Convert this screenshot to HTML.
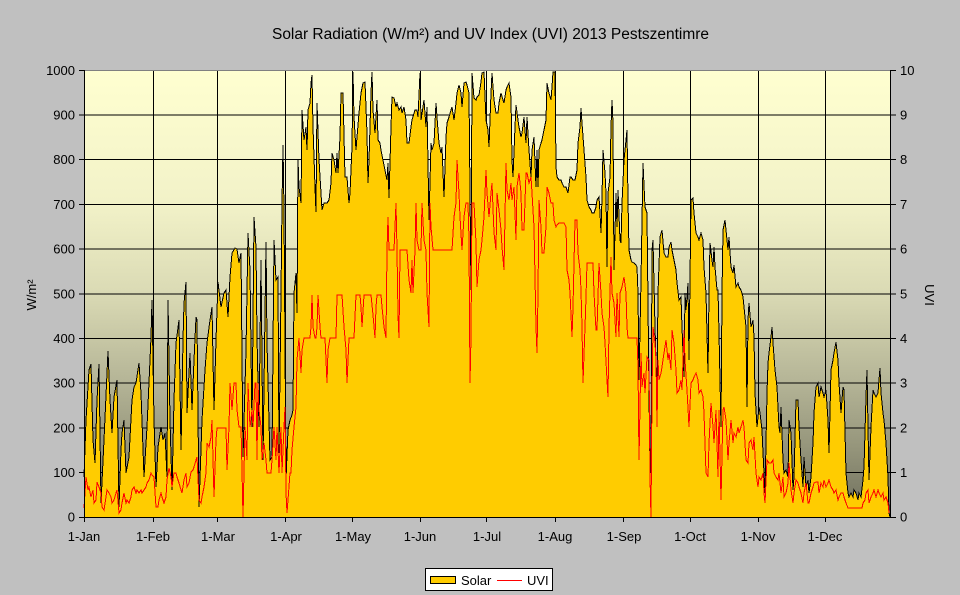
<!DOCTYPE html>
<html><head><meta charset="utf-8"><style>
html,body{margin:0;padding:0;background:#c0c0c0;}
svg{display:block;font-family:"Liberation Sans",Arial,sans-serif;}
</style></head><body>
<svg width="960" height="595" viewBox="0 0 960 595" xmlns="http://www.w3.org/2000/svg">
<defs>
<linearGradient id="bg" x1="0" y1="0" x2="0" y2="1">
<stop offset="0" stop-color="#FFFFD0"/>
<stop offset="0.3" stop-color="#F2F2C8"/>
<stop offset="0.5" stop-color="#DADAB4"/>
<stop offset="0.7" stop-color="#B4B496"/>
<stop offset="0.85" stop-color="#94947A"/>
<stop offset="1" stop-color="#6E6E5C"/>
</linearGradient>
</defs>
<rect x="0" y="0" width="960" height="595" fill="#c0c0c0"/>
<text x="272" y="39" font-size="15.5" textLength="437" lengthAdjust="spacingAndGlyphs" fill="#000">Solar Radiation (W/m²) and UV Index (UVI) 2013 Pestszentimre</text>
<rect x="84" y="70" width="807" height="447" fill="url(#bg)"/>
<g stroke="#000" stroke-width="1" fill="none" shape-rendering="crispEdges">
<path d="M84 472.5H891M84 428H891M84 383H891M84 338.5H891M84 294H891M84 249H891M84 204.5H891M84 159.5H891M84 115H891"/>
<path d="M153.5 70V517M217.5 70V517M285.5 70V517M352.5 70V517M420.5 70V517M486.5 70V517M555.5 70V517M623.5 70V517M690.5 70V517M758.5 70V517M825.5 70V517"/>
</g>
<polygon fill="#FFCC00" stroke="none" points="84,477 86,420 89,370 91,364 93,440 95,463 97,400 99,364 101,503 104,440 107,373 108,351 110,400 112,433 114,397 117,380 119,507 121,450 122,433 124,420 126,473 129,457 132,400 134,387 136,383 139,363 141,393 144,477 147,427 150,360 151,337 152,300 154,420 156,487 158,447 161,427 163,440 165,433 167,477 168,300 170,420 172,490 174,400 176,343 179,320 181,450 183,340 184,303 186,282 187,413 190,353 192,410 194,360 196,317 197,320 199,507 202,420 205,370 207,343 210,320 212,307 214,410 216,340 218,282 221,307 224,293 226,290 228,317 230,277 232,253 235,248 237,249 239,263 241,253 243,457 246,350 248,233 250,270 252,427 254,217 256,247 257,337 259,427 261,260 263,460 266,242 267,343 270,460 272,457 274,240 276,280 278,277 279,453 281,293 282,203 283,145 284,210 286,480 288,430 290,420 292,415 293,410 294,293 296,273 297,313 298,160 299,187 301,203 302,110 304,140 306,127 307,150 308,110 310,103 311,83 312,75 313,127 315,187 316,212 317,103 319,160 321,193 322,210 324,203 327,203 329,200 331,183 332,153 334,160 336,173 337,153 338,173 340,137 341,93 343,93 345,177 347,177 349,203 350,193 352,147 353,72 354,117 356,150 357,137 359,113 361,93 363,83 365,82 367,133 368,183 369,160 371,93 372,72 373,110 375,133 377,100 378,140 380,143 381,150 383,160 385,170 387,180 388,163 389,198 391,127 392,97 394,98 396,107 397,103 399,110 401,107 402,113 404,107 406,120 407,143 409,143 411,127 412,120 415,110 417,110 418,117 420,73 421,120 423,107 424,100 426,127 427,107 429,220 431,143 432,150 434,143 436,103 437,117 439,143 441,153 442,147 444,197 446,137 447,123 449,117 451,110 452,107 454,120 456,103 457,93 459,85 461,93 462,107 464,83 466,82 467,85 469,93 471,290 472,73 474,98 476,100 477,97 479,95 481,82 482,73 484,72 486,120 488,130 489,147 491,93 492,73 494,100 496,113 498,113 499,103 501,93 503,100 504,103 506,90 507,87 509,83 511,97 512,160 513,177 515,127 516,105 518,120 519,127 521,137 522,133 524,117 526,143 527,117 529,150 531,177 532,150 534,137 536,187 537,150 538,187 539,150 541,143 542,140 544,130 546,120 547,83 549,93 551,100 552,87 553,72 555,72 556,167 557,177 559,180 561,180 562,183 564,187 566,187 567,190 568,193 570,177 571,177 573,180 575,180 577,170 578,143 580,127 581,108 582,123 584,150 586,177 587,200 589,207 591,210 592,213 594,213 596,207 597,200 599,197 600,213 601,233 602,197 603,150 605,173 606,193 607,267 608,193 610,177 611,127 612,100 613,123 614,270 616,193 617,227 618,190 620,240 621,243 622,203 624,160 626,140 627,130 628,200 629,250 631,260 632,262 634,263 636,265 637,267 638,293 639,380 641,280 643,163 645,207 647,213 649,393 650,470 651,473 652,250 653,240 655,327 657,393 658,293 660,237 662,230 664,253 666,257 668,257 669,247 671,242 672,250 674,260 676,270 677,283 679,300 681,297 682,327 684,377 685,293 686,310 688,283 689,360 691,200 693,198 694,213 696,233 698,237 699,240 701,233 703,240 704,267 706,293 708,373 709,293 710,243 712,260 713,267 714,247 715,267 717,290 718,290 719,333 721,427 722,293 723,230 725,220 726,230 728,250 729,237 731,267 733,273 734,265 736,287 738,283 739,287 741,290 743,297 744,307 746,327 747,407 748,320 749,303 751,327 753,320 754,337 755,393 757,427 759,407 760,413 762,430 763,453 765,493 767,393 768,363 769,353 771,337 772,327 773,343 775,370 777,387 779,427 780,433 781,407 783,460 784,473 786,470 788,477 789,420 791,433 793,490 794,477 796,400 798,400 799,427 801,460 803,487 804,457 806,487 808,480 809,493 811,477 813,443 814,413 816,387 818,383 819,397 821,387 823,393 824,397 826,390 828,420 829,453 831,370 833,360 834,353 836,342 838,360 839,383 841,413 843,387 844,390 846,473 848,493 849,497 851,493 853,497 854,490 856,493 858,500 859,493 861,497 863,480 864,467 866,397 867,370 868,427 869,480 871,427 873,390 874,393 876,397 878,393 879,380 880,368 881,393 883,413 884,420 886,443 888,477 889,513 890,517 891,517 84,517"/>
<polyline fill="none" stroke="#000" stroke-width="1" shape-rendering="crispEdges" points="84,477 86,420 89,370 91,364 93,440 95,463 97,400 99,364 101,503 104,440 107,373 108,351 110,400 112,433 114,397 117,380 119,507 121,450 122,433 124,420 126,473 129,457 132,400 134,387 136,383 139,363 141,393 144,477 147,427 150,360 151,337 152,300 154,420 156,487 158,447 161,427 163,440 165,433 167,477 168,300 170,420 172,490 174,400 176,343 179,320 181,450 183,340 184,303 186,282 187,413 190,353 192,410 194,360 196,317 197,320 199,507 202,420 205,370 207,343 210,320 212,307 214,410 216,340 218,282 221,307 224,293 226,290 228,317 230,277 232,253 235,248 237,249 239,263 241,253 243,457 246,350 248,233 250,270 252,427 254,217 256,247 257,337 259,427 261,260 263,460 266,242 267,343 270,460 272,457 274,240 276,280 278,277 279,453 281,293 282,203 283,145 284,210 286,480 288,430 290,420 292,415 293,410 294,293 296,273 297,313 298,160 299,187 301,203 302,110 304,140 306,127 307,150 308,110 310,103 311,83 312,75 313,127 315,187 316,212 317,103 319,160 321,193 322,210 324,203 327,203 329,200 331,183 332,153 334,160 336,173 337,153 338,173 340,137 341,93 343,93 345,177 347,177 349,203 350,193 352,147 353,72 354,117 356,150 357,137 359,113 361,93 363,83 365,82 367,133 368,183 369,160 371,93 372,72 373,110 375,133 377,100 378,140 380,143 381,150 383,160 385,170 387,180 388,163 389,198 391,127 392,97 394,98 396,107 397,103 399,110 401,107 402,113 404,107 406,120 407,143 409,143 411,127 412,120 415,110 417,110 418,117 420,73 421,120 423,107 424,100 426,127 427,107 429,220 431,143 432,150 434,143 436,103 437,117 439,143 441,153 442,147 444,197 446,137 447,123 449,117 451,110 452,107 454,120 456,103 457,93 459,85 461,93 462,107 464,83 466,82 467,85 469,93 471,290 472,73 474,98 476,100 477,97 479,95 481,82 482,73 484,72 486,120 488,130 489,147 491,93 492,73 494,100 496,113 498,113 499,103 501,93 503,100 504,103 506,90 507,87 509,83 511,97 512,160 513,177 515,127 516,105 518,120 519,127 521,137 522,133 524,117 526,143 527,117 529,150 531,177 532,150 534,137 536,187 537,150 538,187 539,150 541,143 542,140 544,130 546,120 547,83 549,93 551,100 552,87 553,72 555,72 556,167 557,177 559,180 561,180 562,183 564,187 566,187 567,190 568,193 570,177 571,177 573,180 575,180 577,170 578,143 580,127 581,108 582,123 584,150 586,177 587,200 589,207 591,210 592,213 594,213 596,207 597,200 599,197 600,213 601,233 602,197 603,150 605,173 606,193 607,267 608,193 610,177 611,127 612,100 613,123 614,270 616,193 617,227 618,190 620,240 621,243 622,203 624,160 626,140 627,130 628,200 629,250 631,260 632,262 634,263 636,265 637,267 638,293 639,380 641,280 643,163 645,207 647,213 649,393 650,470 651,473 652,250 653,240 655,327 657,393 658,293 660,237 662,230 664,253 666,257 668,257 669,247 671,242 672,250 674,260 676,270 677,283 679,300 681,297 682,327 684,377 685,293 686,310 688,283 689,360 691,200 693,198 694,213 696,233 698,237 699,240 701,233 703,240 704,267 706,293 708,373 709,293 710,243 712,260 713,267 714,247 715,267 717,290 718,290 719,333 721,427 722,293 723,230 725,220 726,230 728,250 729,237 731,267 733,273 734,265 736,287 738,283 739,287 741,290 743,297 744,307 746,327 747,407 748,320 749,303 751,327 753,320 754,337 755,393 757,427 759,407 760,413 762,430 763,453 765,493 767,393 768,363 769,353 771,337 772,327 773,343 775,370 777,387 779,427 780,433 781,407 783,460 784,473 786,470 788,477 789,420 791,433 793,490 794,477 796,400 798,400 799,427 801,460 803,487 804,457 806,487 808,480 809,493 811,477 813,443 814,413 816,387 818,383 819,397 821,387 823,393 824,397 826,390 828,420 829,453 831,370 833,360 834,353 836,342 838,360 839,383 841,413 843,387 844,390 846,473 848,493 849,497 851,493 853,497 854,490 856,493 858,500 859,493 861,497 863,480 864,467 866,397 867,370 868,427 869,480 871,427 873,390 874,393 876,397 878,393 879,380 880,368 881,393 883,413 884,420 886,443 888,477 889,513 890,517"/>
<polyline fill="none" stroke="#FF0000" stroke-width="1" shape-rendering="crispEdges" points="84,508 86,477 88,490 89,487 91,497 93,490 94,503 96,500 97,482 99,487 101,493 102,507 104,510 106,497 107,490 109,493 111,497 112,503 114,500 116,493 117,490 119,513 121,510 122,503 124,493 126,503 127,500 129,503 131,497 132,490 134,487 136,493 137,490 139,493 141,490 142,493 144,490 146,487 147,483 149,480 151,473 152,475 154,477 156,507 158,507 159,500 161,493 162,497 164,503 166,497 167,480 169,468 171,477 172,487 174,473 176,473 177,477 179,483 181,490 182,493 184,480 186,473 187,487 189,483 191,472 193,470 194,467 196,460 197,457 199,500 201,503 202,497 204,487 206,473 207,443 209,447 211,437 212,420 214,497 216,440 217,428 226,428 227,470 229,427 230,383 232,410 234,383 236,383 237,410 239,427 241,427 242,470 243,517 245,427 247,460 248,383 250,427 252,410 253,427 255,383 256,383 257,460 258,383 259,410 261,427 262,460 264,443 266,460 267,473 269,473 271,473 272,460 274,427 276,460 277,427 279,473 281,427 282,473 284,427 285,407 286,493 287,513 288,500 290,473 291,473 292,450 294,427 296,407 297,360 299,338 301,373 302,350 304,338 310,338 311,327 312,295 313,327 315,338 316,338 317,327 318,295 320,327 321,338 325,338 326,360 327,383 328,350 330,338 336,338 337,295 342,295 344,327 346,350 347,383 349,338 354,338 356,295 360,295 361,307 362,327 364,295 371,295 373,315 375,338 376,307 377,295 381,295 382,307 384,327 386,338 387,250 388,217 389,250 394,250 396,203 397,250 398,315 399,338 400,250 407,250 409,280 411,293 412,260 413,293 415,250 416,203 417,240 419,250 421,250 422,203 424,240 426,250 427,293 429,327 430,203 431,227 433,250 452,250 454,217 456,203 457,160 459,193 460,217 462,250 464,217 466,203 468,203 469,240 470,383 471,337 472,203 474,203 476,243 477,287 479,260 481,250 482,240 484,217 486,170 487,193 489,217 491,193 492,183 494,233 496,250 497,193 499,210 501,230 502,247 504,270 506,163 507,190 509,200 511,183 512,200 514,187 516,240 517,187 519,173 521,193 522,230 524,230 526,173 527,173 529,183 531,177 532,193 534,227 536,327 537,353 538,293 539,200 541,227 542,253 544,253 546,227 547,187 549,193 551,203 553,203 554,220 556,227 557,225 559,223 562,223 564,223 566,227 567,270 569,280 570,293 572,337 573,307 575,220 577,220 578,253 580,270 581,290 582,327 583,383 585,327 586,297 587,263 591,263 593,263 594,293 596,330 597,330 599,263 601,293 602,313 604,327 605,343 607,380 608,397 609,327 611,257 612,293 614,303 616,337 617,293 619,337 620,293 622,287 624,277 626,293 627,327 628,338 637,338 638,367 639,460 641,353 642,387 644,373 645,393 647,357 649,360 650,477 651,517 652,393 653,327 655,343 656,360 657,427 658,360 659,380 661,373 662,367 664,353 666,340 668,360 669,353 671,370 672,330 674,343 676,370 677,393 679,390 681,380 682,390 684,330 685,360 687,390 689,427 691,383 693,380 694,377 696,373 698,380 699,393 701,390 703,397 704,413 706,473 708,477 709,443 711,403 713,427 714,443 716,410 718,477 719,410 721,500 723,410 724,407 726,420 728,460 729,443 731,420 733,443 734,433 736,437 738,427 739,433 741,427 743,420 744,427 746,460 748,463 749,443 751,440 753,450 754,437 756,473 758,487 759,477 761,480 763,473 764,493 765,503 767,460 769,463 771,463 773,460 774,473 776,477 778,480 779,473 781,493 783,477 784,497 786,493 788,483 789,463 791,490 793,503 794,493 796,480 798,483 799,487 801,493 803,503 804,493 806,483 808,503 809,503 811,493 813,487 814,483 816,482 818,482 819,493 821,483 823,487 824,480 826,487 828,483 829,480 831,487 833,490 834,493 836,490 838,500 839,497 841,493 843,493 844,497 846,503 848,508 862,508 863,503 865,500 866,493 868,490 869,503 871,497 873,493 874,490 876,497 878,490 879,493 881,497 883,493 884,500 886,497 888,503 889,513"/>
<line x1="84" y1="70.5" x2="891" y2="70.5" stroke="#808080" stroke-width="1" shape-rendering="crispEdges"/>
<g stroke="#000" stroke-width="1" fill="none" shape-rendering="crispEdges">
<path d="M84.5 70V517.5M890.5 70V517.5M84 517.5H891"/>
<path d="M79 517.5H84M79 472.5H84M79 428H84M79 383H84M79 338.5H84M79 294H84M79 249H84M79 204.5H84M79 159.5H84M79 115H84M79 70.5H84"/>
<path d="M891 517.5H896M891 472.5H896M891 428H896M891 383H896M891 338.5H896M891 294H896M891 249H896M891 204.5H896M891 159.5H896M891 115H896M891 70.5H896"/>
<path d="M84.5 517V522M153.5 517V522M217.5 517V522M285.5 517V522M352.5 517V522M420.5 517V522M486.5 517V522M555.5 517V522M623.5 517V522M690.5 517V522M758.5 517V522M825.5 517V522"/>
</g>
<g font-size="13" fill="#000" text-anchor="end">
<text x="75" y="521.5">0</text>
<text x="75" y="477">100</text>
<text x="75" y="432.5">200</text>
<text x="75" y="387.5">300</text>
<text x="75" y="343">400</text>
<text x="75" y="298.5">500</text>
<text x="75" y="253.5">600</text>
<text x="75" y="209">700</text>
<text x="75" y="164">800</text>
<text x="75" y="119.5">900</text>
<text x="75" y="75">1000</text>
</g>
<g font-size="13" fill="#000" text-anchor="start">
<text x="900" y="521.5">0</text>
<text x="900" y="477">1</text>
<text x="900" y="432.5">2</text>
<text x="900" y="387.5">3</text>
<text x="900" y="343">4</text>
<text x="900" y="298.5">5</text>
<text x="900" y="253.5">6</text>
<text x="900" y="209">7</text>
<text x="900" y="164">8</text>
<text x="900" y="119.5">9</text>
<text x="900" y="75">10</text>
</g>
<g font-size="13" fill="#000" text-anchor="middle">
<text x="84" y="541">1-Jan</text>
<text x="153" y="541">1-Feb</text>
<text x="218" y="541">1-Mar</text>
<text x="286" y="541">1-Apr</text>
<text x="353" y="541">1-May</text>
<text x="420" y="541">1-Jun</text>
<text x="487" y="541">1-Jul</text>
<text x="555" y="541">1-Aug</text>
<text x="624" y="541">1-Sep</text>
<text x="690" y="541">1-Oct</text>
<text x="758" y="541">1-Nov</text>
<text x="825" y="541">1-Dec</text>
</g>
<text transform="translate(36,295) rotate(-90)" font-size="13" text-anchor="middle" fill="#000">W/m²</text>
<text transform="translate(925,295) rotate(90)" font-size="13" text-anchor="middle" fill="#000">UVI</text>
<rect x="425.5" y="568.5" width="127" height="22" fill="#fff" stroke="#000" stroke-width="1" shape-rendering="crispEdges"/>
<rect x="430.5" y="576.5" width="25" height="7" fill="#FFCC00" stroke="#000" stroke-width="1" shape-rendering="crispEdges"/>
<text x="461" y="585" font-size="13" fill="#000">Solar</text>
<line x1="497" y1="580.5" x2="522" y2="580.5" stroke="#FF0000" stroke-width="1" shape-rendering="crispEdges"/>
<text x="527" y="585" font-size="13" fill="#000">UVI</text>
</svg>
</body></html>
